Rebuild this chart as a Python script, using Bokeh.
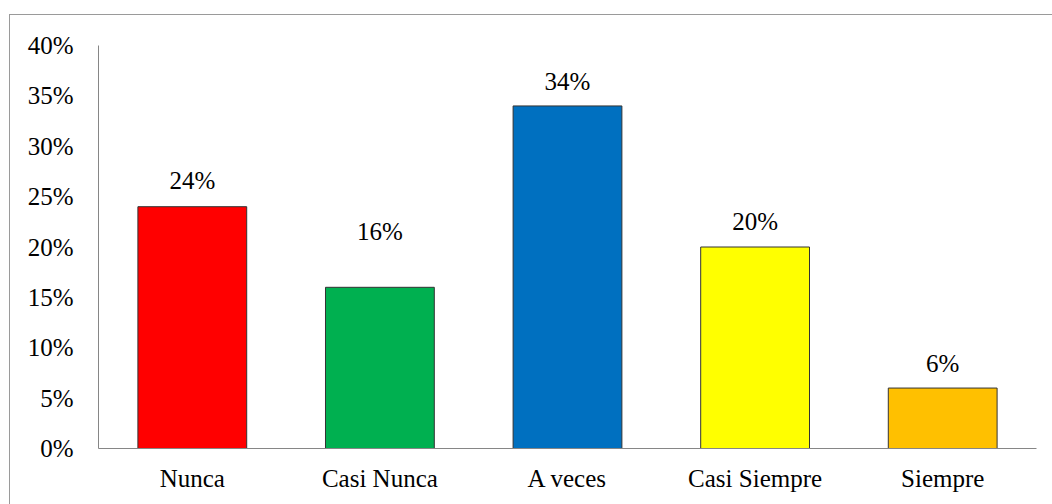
from bokeh.plotting import figure
from bokeh.models import ColumnDataSource, NumeralTickFormatter, FixedTicker
from bokeh.core.properties import value
from bokeh.embed import file_html
from bokeh.resources import INLINE

categories = ["Nunca", "Casi Nunca", "A veces", "Casi Siempre", "Siempre"]
shares = [0.24, 0.16, 0.34, 0.20, 0.06]
labels = ["24%", "16%", "34%", "20%", "6%"]
colors = ["#FF0000", "#00B050", "#0070C0", "#FFFF00", "#FFC000"]
label_gap_px = [26, 56, 24, 26, 25]
y_ticks = [0, 0.05, 0.10, 0.15, 0.20, 0.25, 0.30, 0.35, 0.40]

FONT = "Liberation Serif"
FS = "25px"

src = ColumnDataSource(dict(cat=categories, val=shares, lab=labels, col=colors,
                            off=[-g for g in label_gap_px]))

p = figure(x_range=categories, y_range=(0, 0.40), width=1043, height=490,
           output_backend="svg", toolbar_location=None,
           min_border_left=88, min_border_right=17, min_border_top=30, min_border_bottom=57,
           margin=(14, 0, 0, 9),
           styles={"border-top": "1px solid #9a9a9a", "border-left": "1px solid #9a9a9a"})

p.vbar(x="cat", top="val", width=0.58, source=src, fill_color="col",
       line_color="#333333", line_width=1)
p.text(x="cat", y="val", text="lab", source=src, y_offset="off",
       text_align="center", text_baseline="middle",
       text_font=value(FONT), text_font_size=FS, text_color="black")

p.outline_line_color = None
p.xgrid.grid_line_color = None
p.ygrid.grid_line_color = None
p.background_fill_color = "white"
p.border_fill_color = "white"

p.yaxis.ticker = FixedTicker(ticks=y_ticks)
p.yaxis.formatter = NumeralTickFormatter(format="0%")
for ax in (p.xaxis, p.yaxis):
    ax.axis_line_color = "#868686"
    ax.axis_line_width = 1
    ax.major_tick_line_color = None
    ax.minor_tick_line_color = None
    ax.major_tick_out = 0
    ax.major_tick_in = 0
    ax.major_label_text_font = FONT
    ax.major_label_text_font_size = FS
    ax.major_label_text_color = "black"
p.yaxis.major_label_standoff = 25
p.xaxis.major_label_standoff = 16
p.x_range.range_padding = 0

open("out.html", "w").write(file_html(p, INLINE))
